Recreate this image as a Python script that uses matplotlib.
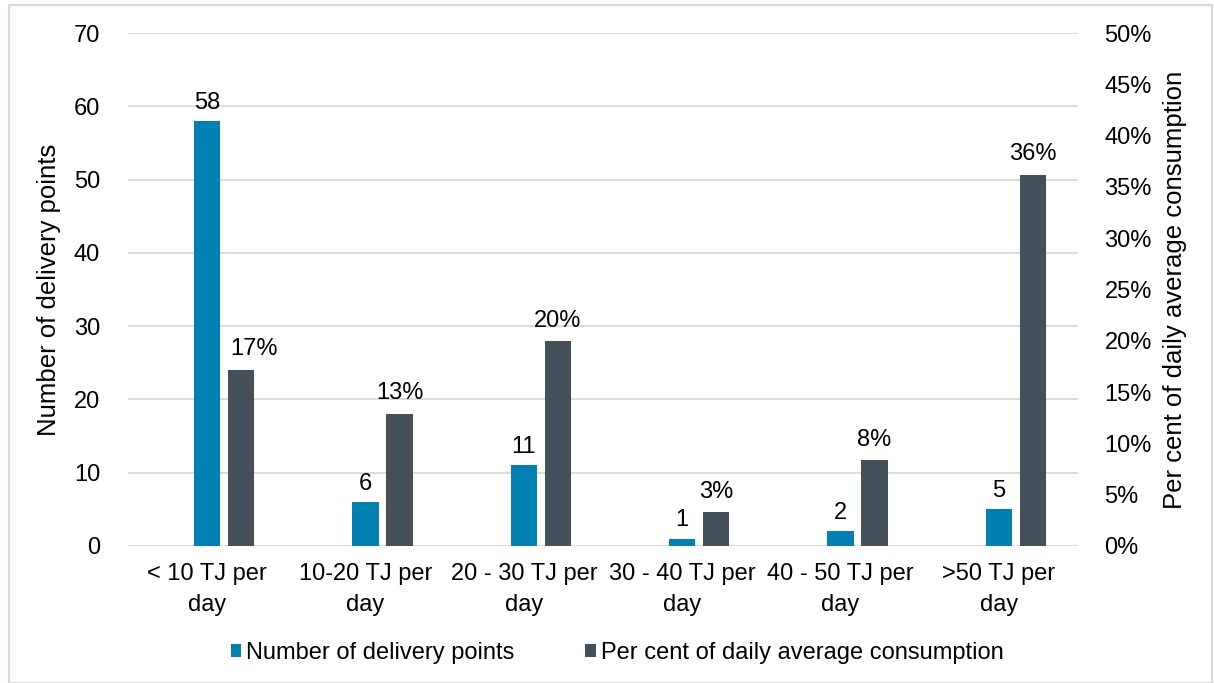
import matplotlib.pyplot as plt
import numpy as np
from matplotlib.patches import Rectangle

plt.rcParams["font.family"] = ["Liberation Sans", "DejaVu Sans"]

categories = ["< 10 TJ per\nday", "10-20 TJ per\nday", "20 - 30 TJ per\nday",
              "30 - 40 TJ per\nday", "40 - 50 TJ per\nday", ">50 TJ per\nday"]
delivery_points = [58, 6, 11, 1, 2, 5]
pct_consumption = [17.2, 12.9, 20.0, 3.3, 8.4, 36.2]
pct_labels = ["17%", "13%", "20%", "3%", "8%", "36%"]

blue = "#0080B3"
slate = "#44505A"
grid = "#D9D9D9"
fs = 17

fig = plt.figure(figsize=(12.14, 6.83), dpi=100)
ax = fig.add_axes([128 / 1214, 1 - 546 / 683, 950 / 1214, 513 / 683])
ax2 = ax.twinx()

x = np.arange(len(categories))
w = 0.165
off = 0.215

ax.bar(x, delivery_points, w, color=blue, label="Number of delivery points", zorder=3)
ax2.bar(x + off, pct_consumption, w, color=slate,
        label="Per cent of daily average consumption", zorder=3)

for xi, v in zip(x, delivery_points):
    ax.text(xi, v + 1.0, str(v), ha="center", va="bottom", fontsize=fs)
for i, (xi, v, lab) in enumerate(zip(x, pct_consumption, pct_labels)):
    # first label is nudged right in the original so it clears the tall bar
    dx = 0.08 if i == 0 else 0
    ax2.text(xi + off + dx, v + 0.9, lab, ha="center", va="bottom", fontsize=fs)

ax.set_xlim(-0.5, len(categories) - 0.5)
ax.set_ylim(0, 70)
ax2.set_ylim(0, 50)
ax.set_yticks(range(0, 71, 10))
ax2.set_yticks(range(0, 51, 5))
ax2.set_yticklabels([f"{t}%" for t in range(0, 51, 5)])
ax.set_xticks(x)
ax.set_xticklabels(categories, fontsize=fs, linespacing=1.55)

ax.grid(axis="y", color=grid, linewidth=1.3, zorder=0)
ax.set_axisbelow(True)
for a in (ax, ax2):
    for s in a.spines.values():
        s.set_visible(False)
    a.tick_params(length=0, labelsize=fs)
ax.tick_params(axis="y", pad=20)
ax2.tick_params(axis="y", pad=19)
ax.tick_params(axis="x", pad=12)

ax.set_ylabel("Number of delivery points", fontsize=18.5, labelpad=9)
ax2.set_ylabel("Per cent of daily average consumption", fontsize=18.5, labelpad=8)

h1, l1 = ax.get_legend_handles_labels()
h2, l2 = ax2.get_legend_handles_labels()
fig.legend(h1 + h2, l1 + l2, loc="center", bbox_to_anchor=(617 / 1214, 1 - 653 / 683),
           ncol=2, frameon=False, fontsize=fs, handlelength=0.45, handleheight=0.45,
           handletextpad=0.2, columnspacing=3)

fig.patches.append(Rectangle((9 / 1214, 0), 1 - 9 / 1214 - 2 / 1214, 1 - 5 / 683,
                             transform=fig.transFigure, fill=False,
                             edgecolor="#D9D9D9", linewidth=1.5))

fig.savefig("out.png", dpi=100)
